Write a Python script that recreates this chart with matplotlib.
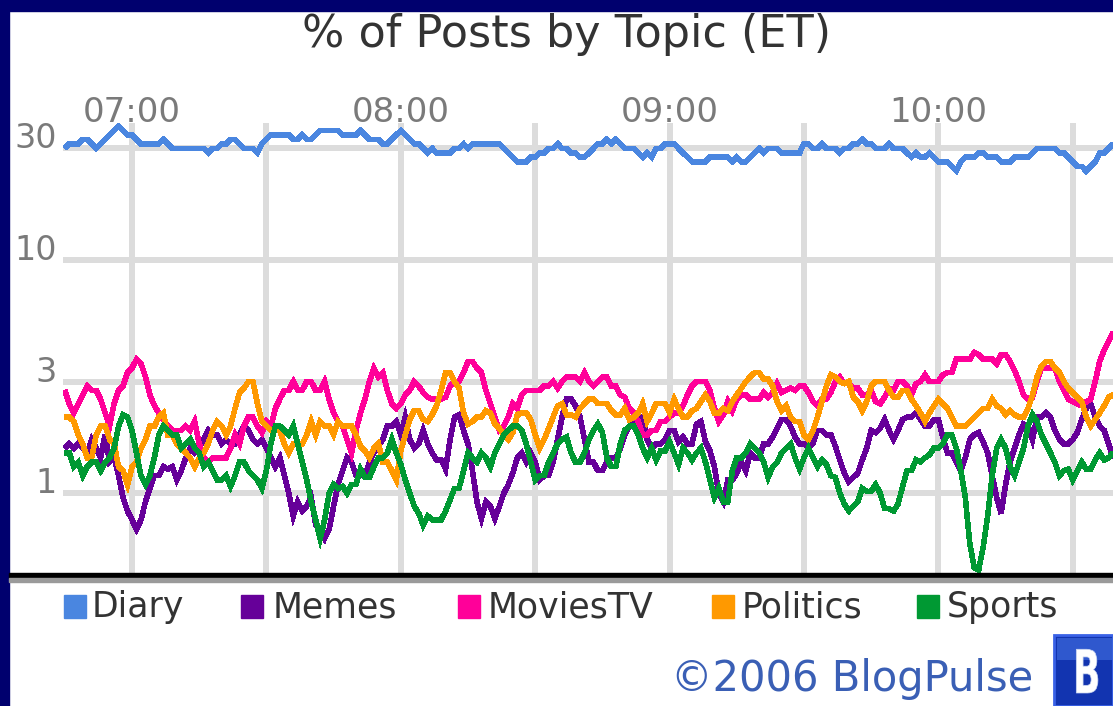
import numpy as np
import matplotlib
matplotlib.use("Agg")
import matplotlib.pyplot as plt
from matplotlib.patches import Rectangle, PathPatch
from matplotlib.textpath import TextPath
from matplotlib.transforms import Affine2D
from matplotlib.font_manager import FontProperties

# ---------------- data (percent of posts, one value per minute from 06:45) -------------
start_minute = 6 * 60 + 45

diary = [
    30.0, 31.4, 31.4, 31.4, 32.8, 32.8, 31.4, 30.0, 31.4, 32.8,
    34.3, 35.8, 37.4, 35.8, 34.3, 34.3, 32.8, 31.4, 31.4, 31.4,
    31.4, 31.4, 32.8, 31.4, 30.0, 30.0, 30.0, 30.0, 30.0, 30.0,
    30.0, 30.0, 28.7, 30.0, 30.0, 31.4, 31.4, 32.8, 32.8, 31.4,
    30.0, 30.0, 30.0, 28.7, 31.4, 32.8, 34.3, 34.3, 34.3, 34.3,
    34.3, 32.8, 32.8, 34.3, 32.8, 32.8, 34.3, 35.8, 35.8, 35.8,
    35.8, 35.8, 34.3, 34.3, 34.3, 34.3, 35.8, 34.3, 32.8, 32.8,
    32.8, 31.4, 31.4, 32.8, 34.3, 35.8, 34.3, 32.8, 31.4, 31.4,
    30.0, 28.7, 30.0, 28.7, 28.7, 28.7, 28.7, 30.0, 30.0, 31.4,
    30.0, 31.4, 31.4, 31.4, 31.4, 31.4, 31.4, 31.4, 30.0, 28.7,
    27.5, 26.3, 26.3, 26.3, 27.5, 27.5, 28.7, 28.7, 30.0, 30.0,
    31.4, 30.0, 30.0, 28.7, 28.7, 27.5, 27.5, 28.7, 30.0, 31.4,
    31.4, 32.8, 31.4, 32.8, 31.4, 30.0, 30.0, 30.0, 28.7, 27.5,
    28.7, 27.5, 30.0, 30.0, 31.4, 31.4, 31.4, 30.0, 28.7, 27.5,
    26.3, 26.3, 26.3, 26.3, 27.5, 27.5, 27.5, 27.5, 27.5, 26.3,
    27.5, 26.3, 26.3, 27.5, 28.7, 30.0, 28.7, 30.0, 30.0, 30.0,
    28.7, 28.7, 28.7, 28.7, 28.7, 31.4, 31.4, 30.0, 30.0, 31.4,
    30.0, 30.0, 30.0, 28.7, 30.0, 30.0, 31.4, 31.4, 32.8, 31.4,
    31.4, 30.0, 30.0, 30.0, 31.4, 30.0, 30.0, 30.0, 28.7, 27.5,
    28.7, 27.5, 27.5, 28.7, 27.5, 26.3, 26.3, 26.3, 25.1, 24.0,
    26.3, 27.5, 27.5, 27.5, 28.7, 28.7, 27.5, 27.5, 27.5, 26.3,
    26.3, 26.3, 27.5, 27.5, 27.5, 27.5, 28.7, 30.0, 30.0, 30.0,
    30.0, 30.0, 28.7, 28.7, 27.5, 26.3, 25.1, 25.1, 24.0, 25.1,
    26.3, 28.7, 28.7, 30.0, 31.4,
]

memes = [
    1.56, 1.63, 1.56, 1.63, 1.56, 1.49, 1.70, 1.56, 1.42, 1.78,
    1.36, 1.42, 1.19, 0.96, 0.84, 0.77, 0.70, 0.77, 0.92, 1.05,
    1.19, 1.19, 1.30, 1.27, 1.30, 1.14, 1.25, 1.42, 1.56, 1.49,
    1.56, 1.70, 1.86, 1.78, 1.78, 1.63, 1.70, 1.63, 1.63, 1.78,
    1.94, 1.86, 1.70, 1.63, 1.70, 1.56, 1.42, 1.30, 1.42, 1.19,
    1.00, 0.80, 0.92, 0.84, 0.88, 0.96, 0.73, 0.70, 0.64, 0.70,
    0.88, 1.09, 1.25, 1.42, 1.36, 1.19, 1.19, 1.19, 1.36, 1.49,
    1.59, 1.70, 1.94, 1.94, 2.03, 1.78, 2.12, 1.70, 1.56, 1.63,
    1.86, 1.63, 1.49, 1.39, 1.39, 1.27, 1.70, 2.12, 2.17, 1.86,
    1.63, 1.25, 0.92, 0.78, 0.92, 0.88, 0.78, 0.88, 1.00, 1.09,
    1.22, 1.42, 1.49, 1.36, 1.49, 1.36, 1.14, 1.19, 1.19, 1.36,
    1.70, 2.12, 2.53, 2.53, 2.37, 2.12, 1.70, 1.36, 1.36, 1.25,
    1.25, 1.36, 1.42, 1.42, 1.56, 1.78, 1.94, 2.03, 2.03, 2.12,
    1.70, 1.56, 1.63, 1.63, 1.70, 1.86, 1.86, 1.66, 1.74, 1.63,
    1.63, 1.98, 2.03, 1.66, 1.52, 1.30, 1.00, 0.92, 1.14, 1.14,
    1.22, 1.36, 1.25, 1.49, 1.42, 1.42, 1.63, 1.63, 1.74, 1.90,
    2.07, 2.07, 1.94, 1.74, 1.63, 1.63, 1.56, 1.63, 1.86, 1.86,
    1.78, 1.78, 1.59, 1.39, 1.22, 1.12, 1.17, 1.22, 1.39, 1.56,
    1.86, 1.82, 1.90, 2.07, 1.86, 1.70, 1.86, 2.07, 2.12, 2.12,
    2.21, 2.07, 1.94, 1.94, 2.07, 2.07, 1.74, 1.49, 1.49, 1.36,
    1.25, 1.42, 1.70, 1.78, 1.82, 1.66, 1.49, 1.19, 0.96, 0.82,
    1.09, 1.36, 1.56, 1.78, 1.98, 1.94, 1.70, 2.12, 2.12, 2.21,
    2.12, 1.86, 1.70, 1.63, 1.63, 1.70, 1.82, 2.07, 2.31, 2.42,
    2.12, 1.94, 1.86, 1.63, 1.42,
]

movies_tv = [
    2.76, 2.42, 2.21, 2.42, 2.64, 2.88, 2.76, 2.76, 2.53, 2.21,
    1.94, 2.42, 2.76, 2.88, 3.29, 3.44, 3.75, 3.59, 3.15, 2.64,
    2.37, 2.21, 2.07, 1.94, 1.86, 1.86, 1.86, 1.94, 1.86, 2.03,
    1.63, 1.42, 1.36, 1.42, 1.42, 1.42, 1.42, 1.56, 1.78, 1.63,
    1.94, 2.12, 2.12, 1.94, 1.82, 2.03, 1.94, 2.31, 2.53, 2.76,
    2.76, 3.01, 2.76, 2.76, 3.01, 3.01, 2.76, 2.76, 3.01, 2.53,
    2.21, 2.03, 1.94, 1.70, 1.49, 1.86, 2.21, 2.53, 3.01, 3.44,
    3.15, 3.29, 2.76, 2.42, 2.31, 2.42, 2.64, 2.76, 3.01, 2.88,
    2.70, 2.58, 2.53, 2.53, 2.53, 2.58, 2.88, 3.01, 3.01, 3.29,
    3.67, 3.67, 3.44, 3.29, 2.76, 2.42, 2.12, 1.86, 1.94, 2.12,
    2.42, 2.31, 2.64, 2.76, 2.76, 2.76, 2.76, 2.88, 2.88, 3.01,
    2.82, 3.01, 3.15, 3.15, 3.15, 3.01, 3.29, 3.01, 2.88, 3.01,
    3.15, 3.15, 2.88, 2.88, 2.64, 2.58, 2.31, 2.21, 2.03, 1.78,
    1.78, 1.86, 1.86, 2.03, 2.03, 2.12, 2.21, 2.21, 2.37, 2.64,
    2.88, 3.01, 3.01, 3.01, 2.76, 2.31, 2.03, 2.17, 2.47, 2.26,
    2.53, 2.64, 2.64, 2.53, 2.53, 2.53, 2.70, 2.58, 2.70, 2.95,
    2.70, 2.76, 2.82, 2.76, 2.88, 2.88, 2.70, 2.47, 2.37, 2.53,
    2.53, 2.70, 3.01, 3.15, 2.95, 2.95, 2.82, 2.82, 2.64, 2.64,
    2.76, 2.47, 2.42, 2.58, 2.82, 2.76, 3.01, 3.01, 2.88, 2.64,
    2.95, 3.01, 3.22, 3.01, 3.01, 3.01, 3.22, 3.29, 3.29, 3.75,
    3.75, 3.75, 3.75, 4.01, 3.92, 3.75, 3.75, 3.75, 3.59, 3.92,
    3.92, 3.67, 3.36, 3.01, 2.64, 2.53, 2.58, 3.01, 3.44, 3.44,
    3.44, 3.44, 3.01, 2.76, 2.53, 2.47, 2.42, 2.37, 2.47, 2.53,
    3.01, 3.67, 4.10, 4.48, 4.89,
]

politics = [
    2.12, 2.12, 2.03, 1.78, 1.63, 1.42, 1.42, 1.78, 1.94, 1.94,
    1.70, 1.63, 1.30, 1.25, 1.09, 1.30, 1.36, 1.56, 1.70, 1.94,
    1.94, 2.12, 2.21, 1.78, 1.78, 1.63, 1.56, 1.49, 1.42, 1.30,
    1.42, 1.49, 1.63, 1.86, 2.03, 1.94, 1.78, 1.94, 2.31, 2.70,
    2.82, 3.01, 3.01, 2.42, 2.03, 1.94, 1.86, 1.86, 1.86, 1.63,
    1.49, 1.63, 1.63, 1.63, 1.78, 2.03, 1.78, 2.03, 1.94, 1.94,
    1.78, 2.03, 1.94, 1.94, 1.94, 1.78, 1.59, 1.52, 1.42, 1.56,
    1.63, 1.36, 1.36, 1.25, 1.14, 1.52, 1.78, 2.07, 2.26, 2.26,
    2.07, 2.03, 2.17, 2.37, 2.76, 3.29, 3.29, 3.01, 2.82, 2.21,
    1.98, 2.03, 2.12, 2.12, 2.26, 2.21, 1.98, 1.90, 1.78, 1.70,
    1.82, 2.17, 2.21, 2.21, 2.07, 1.78, 1.56, 1.70, 1.90, 2.12,
    2.37, 2.42, 2.17, 2.17, 2.12, 2.31, 2.42, 2.53, 2.53, 2.42,
    2.42, 2.42, 2.26, 2.17, 2.17, 2.31, 2.07, 2.12, 2.21, 2.42,
    2.03, 2.21, 2.42, 2.42, 2.42, 2.21, 2.53, 2.31, 2.12, 2.12,
    2.26, 2.31, 2.47, 2.64, 2.47, 2.21, 2.21, 2.31, 2.26, 2.47,
    2.64, 2.82, 3.01, 3.15, 3.29, 3.29, 3.08, 3.08, 2.88, 2.47,
    2.26, 2.37, 2.12, 2.03, 2.03, 1.78, 1.70, 1.86, 2.12, 2.47,
    2.88, 3.22, 3.15, 3.01, 2.95, 3.01, 2.58, 2.47, 2.26, 2.47,
    2.88, 3.01, 3.01, 3.01, 2.76, 2.58, 2.58, 2.76, 2.76, 2.53,
    2.37, 2.21, 2.03, 2.21, 2.37, 2.53, 2.42, 2.31, 2.12, 1.94,
    1.94, 1.94, 2.03, 2.12, 2.21, 2.31, 2.31, 2.53, 2.37, 2.31,
    2.17, 2.26, 2.17, 2.12, 2.12, 2.31, 2.64, 3.15, 3.51, 3.67,
    3.67, 3.44, 3.29, 3.01, 2.82, 2.70, 2.58, 2.47, 2.12, 1.94,
    2.07, 2.21, 2.37, 2.58, 2.64,
]

sports = [
    1.49, 1.49, 1.30, 1.36, 1.19, 1.30, 1.36, 1.36, 1.25, 1.36,
    1.42, 1.56, 1.94, 2.17, 2.12, 1.86, 1.49, 1.19, 1.09, 1.19,
    1.42, 1.78, 1.94, 1.86, 1.78, 1.78, 1.56, 1.63, 1.70, 1.56,
    1.49, 1.30, 1.36, 1.25, 1.14, 1.14, 1.19, 1.07, 1.19, 1.36,
    1.36, 1.25, 1.19, 1.14, 1.05, 1.25, 1.63, 1.94, 1.94, 1.86,
    1.78, 1.94, 1.63, 1.36, 1.14, 0.92, 0.77, 0.64, 0.77, 1.00,
    1.09, 1.05, 1.07, 1.00, 1.09, 1.09, 1.27, 1.17, 1.17, 1.30,
    1.42, 1.42, 1.49, 1.70, 1.49, 1.33, 1.14, 1.00, 0.88, 0.82,
    0.73, 0.80, 0.77, 0.77, 0.77, 0.84, 0.94, 1.05, 1.05, 1.25,
    1.49, 1.42, 1.36, 1.49, 1.42, 1.30, 1.49, 1.63, 1.78, 1.86,
    1.94, 1.94, 1.86, 1.63, 1.36, 1.14, 1.19, 1.19, 1.36, 1.49,
    1.63, 1.70, 1.74, 1.49, 1.36, 1.36, 1.49, 1.70, 1.86, 1.98,
    1.82, 1.42, 1.30, 1.30, 1.63, 1.86, 1.94, 1.94, 1.78, 1.56,
    1.42, 1.56, 1.39, 1.52, 1.52, 1.66, 1.49, 1.33, 1.56, 1.49,
    1.39, 1.49, 1.56, 1.36, 1.14, 0.96, 1.05, 0.92, 0.92, 1.25,
    1.42, 1.42, 1.49, 1.63, 1.56, 1.49, 1.36, 1.17, 1.30, 1.36,
    1.49, 1.56, 1.63, 1.42, 1.27, 1.42, 1.56, 1.42, 1.30, 1.39,
    1.33, 1.19, 1.17, 1.00, 0.90, 0.84, 0.88, 0.92, 1.05, 1.02,
    1.02, 1.09, 1.00, 0.86, 0.86, 0.84, 0.90, 1.07, 1.25, 1.25,
    1.39, 1.36, 1.42, 1.46, 1.56, 1.56, 1.63, 1.78, 1.78, 1.56,
    1.25, 0.96, 0.61, 0.48, 0.47, 0.59, 0.80, 1.19, 1.56, 1.70,
    1.56, 1.30, 1.19, 1.36, 1.56, 1.94, 2.17, 2.03, 1.78, 1.63,
    1.49, 1.36, 1.19, 1.25, 1.27, 1.14, 1.25, 1.36, 1.27, 1.27,
    1.39, 1.49, 1.39, 1.42, 1.49,
]

series_names = ["Diary", "Memes", "MoviesTV", "Politics", "Sports"]
series_values = [diary, memes, movies_tv, politics, sports]
series_colors = ["#4a86e0", "#660099", "#ff0099", "#ff9900", "#009933"]

grid_minutes = [420 + 30 * k for k in range(8)]
label_minutes = [420, 480, 540, 600]
tick_labels = ["07:00", "08:00", "09:00", "10:00"]
ytick_values = [1, 3, 10, 30]
ytick_labels = ["1", "3", "10", "30"]
title = "% of Posts by Topic (ET)"
credit = "\u00a92006 BlogPulse"

# ---------------- figure ----------------
W, H = 1113, 706
DPI = 100
fig = plt.figure(figsize=(W / DPI, H / DPI), dpi=DPI, facecolor="white")


def fx(px):
    return px / W


def fy(py):
    return 1 - py / H


ax_left, ax_right, ax_top, ax_bot = 63, 1113, 123, 575.3
ax = fig.add_axes([fx(ax_left), fy(ax_bot), (ax_right - ax_left) / W, (ax_bot - ax_top) / H])
ax.set_facecolor("white")
ax.set_yscale("log")

px_per_min = 4.48
x0_px = 132  # 07:00
ax.set_xlim(420 + (ax_left - x0_px) / px_per_min, 420 + (ax_right - x0_px) / px_per_min)
px_per_decade = 233.5
y1_px = 493.3
ax.set_ylim(10 ** ((y1_px - ax_bot) / px_per_decade), 10 ** ((y1_px - ax_top) / px_per_decade))

for vals, col in zip(series_values, series_colors):
    x = start_minute + np.arange(len(vals))
    ax.plot(x, vals, color=col, lw=3.3, solid_joinstyle="miter", solid_capstyle="butt",
            antialiased=False, zorder=3)

# grid
ax.set_axisbelow(True)
ax.set_xticks(grid_minutes)
ax.set_xticklabels([tick_labels[label_minutes.index(m)] if m in label_minutes else "" for m in grid_minutes])
ax.set_yticks(ytick_values)
ax.set_yticklabels(ytick_labels)
ax.yaxis.set_minor_locator(matplotlib.ticker.NullLocator())
ax.grid(True, which="major", color="#dcdcdc", lw=3.1, antialiased=False)
ax.xaxis.tick_top()
ax.tick_params(axis="x", length=0, pad=0.7, labelsize=24.5, labelcolor="#7a7a7a")
ax.tick_params(axis="y", length=0, pad=4.3, labelsize=24, labelcolor="#7a7a7a")
for lbl in ax.xaxis.get_majorticklabels():
    lbl.set_verticalalignment("baseline")
for lbl in ax.yaxis.get_majorticklabels():
    lbl.set_verticalalignment("baseline")
for sp in ax.spines.values():
    sp.set_visible(False)

# frame decorations
fig.patches.append(Rectangle((0, 0), fx(8.6), 1, transform=fig.transFigure, color="#00006e", zorder=5))
fig.patches.append(Rectangle((0, fy(11)), 1, 11 / H, transform=fig.transFigure, color="#00006e", zorder=5))
fig.patches.append(Rectangle((fx(8.6), fy(577.7)), 1, 4.4 / H, transform=fig.transFigure, color="black", zorder=5))
fig.patches.append(Rectangle((fx(8.6), fy(581.7)), 1, 4.0 / H, transform=fig.transFigure, color="#9a9a9a", zorder=5))

# title
fig.text(fx(566.5), fy(47), title, ha="center", va="baseline", fontsize=32, color="#333333")

# legend
sq_x = [64, 241, 458, 712, 917]
tx_x = [92, 273, 488, 742, 947]
for name, col, sx, tx in zip(series_names, series_colors, sq_x, tx_x):
    fig.patches.append(Rectangle((fx(sx), fy(618)), 22 / W, 23 / H, transform=fig.transFigure,
                                 color=col, zorder=5))
    fig.text(fx(tx), fy(617), name, ha="left", va="baseline", fontsize=25, color="#333333")

# credit
fig.text(fx(671), fy(691), credit, ha="left", va="baseline", fontsize=30, color="#3a5fb5")

# logo box
fig.patches.append(Rectangle((fx(1054), 0), (W - 1054) / W, (H - 635) / H, transform=fig.transFigure,
                             facecolor="#1234b0", edgecolor="#3a62e6", lw=2, zorder=5))
fig.patches.append(Rectangle((fx(1057), fy(660)), (W - 1057) / W, 22 / H, transform=fig.transFigure,
                             facecolor="#3c68dc", edgecolor="none", zorder=5, alpha=0.7))
bpath = TextPath((0, 0), "B", size=1, prop=FontProperties(family="DejaVu Sans", weight="bold"))
btrans = Affine2D().scale(36, 60).translate(1073, H - 693)
fig.patches.append(PathPatch(bpath, transform=btrans, facecolor="white", edgecolor="#c8d4f0", lw=0.5, zorder=6))

fig.savefig("out.png", dpi=DPI, facecolor="white")
